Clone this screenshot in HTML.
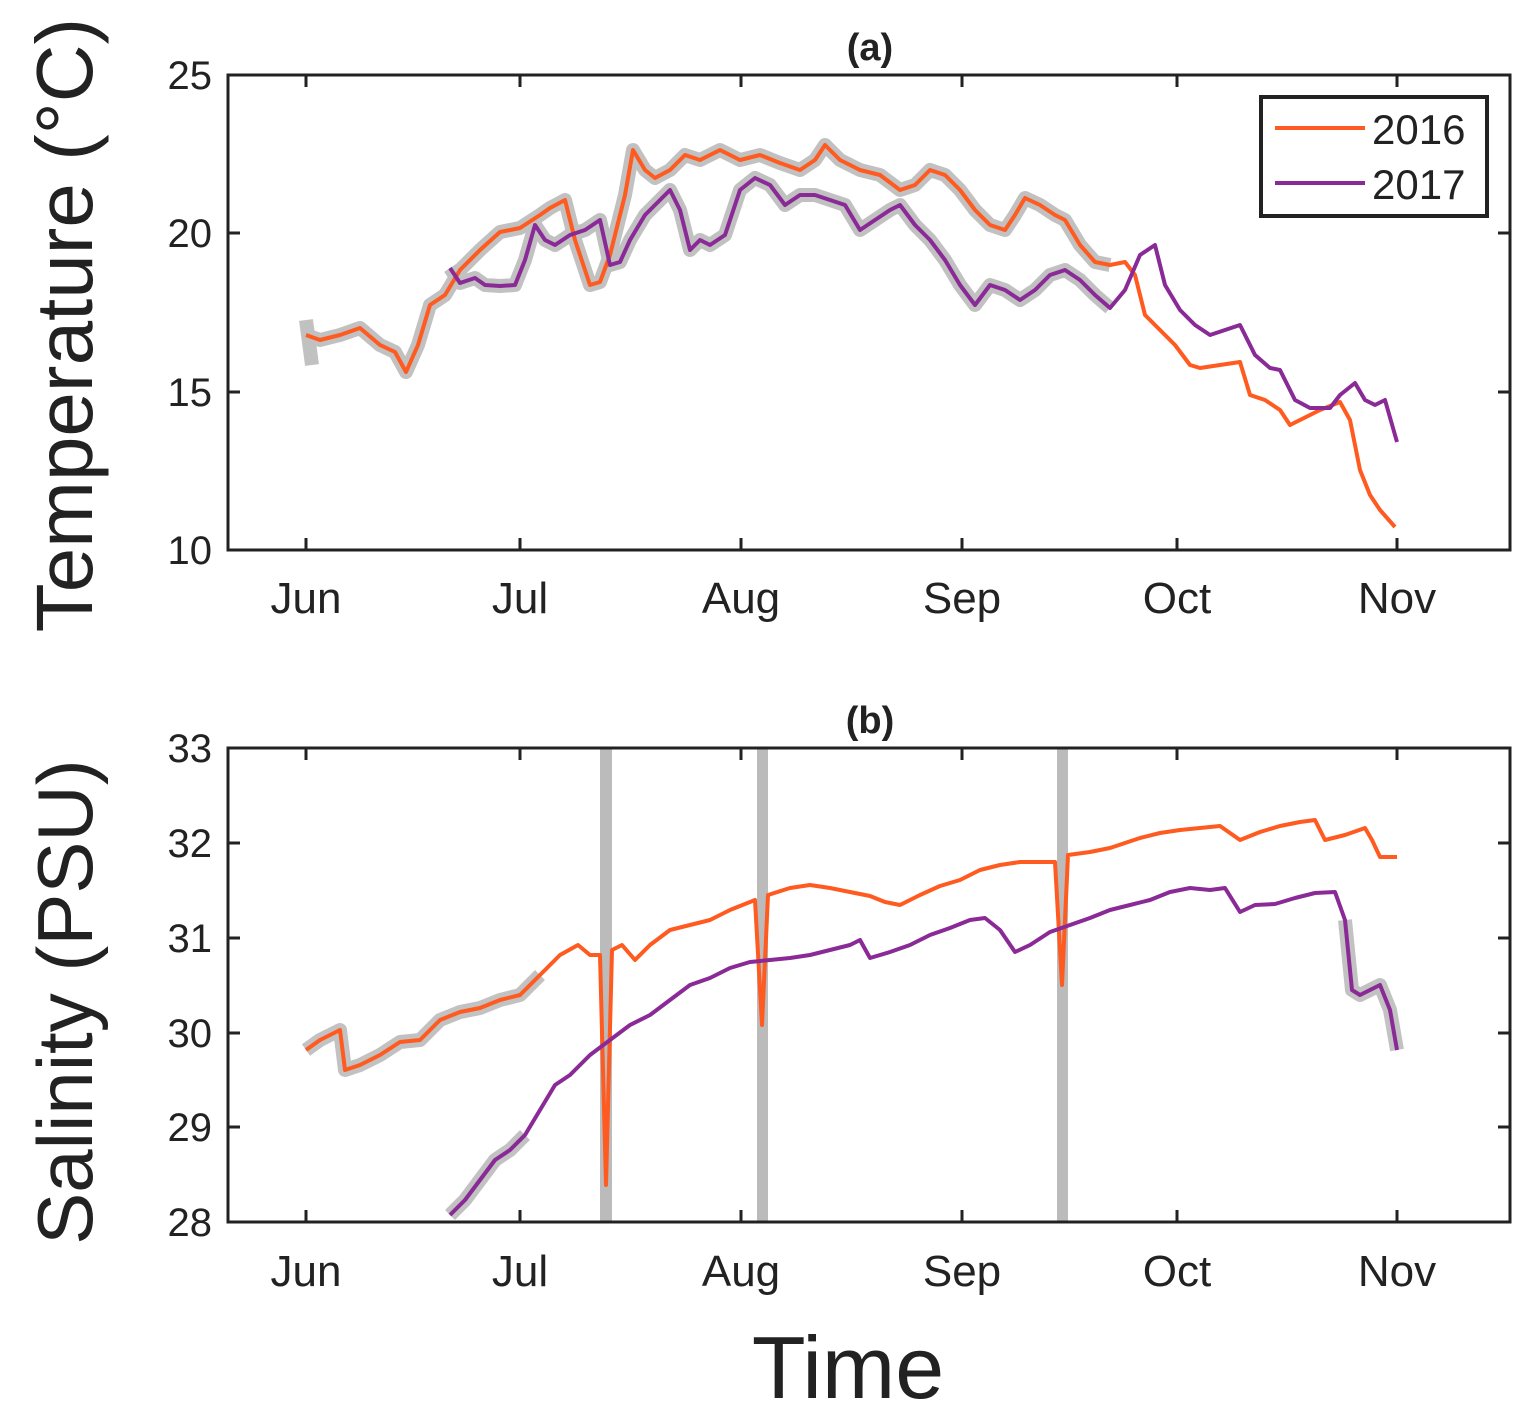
<!DOCTYPE html>
<html><head><style>body{margin:0;background:#fff}svg text{font-family:"Liberation Sans",sans-serif;fill:#222}</style></head>
<body>
<svg width="1539" height="1416" viewBox="0 0 1539 1416" xmlns="http://www.w3.org/2000/svg">
<!-- Panel a -->
<text x="870" y="60" font-size="38" font-weight="bold" text-anchor="middle">(a)</text>
<g stroke="#bbb" stroke-width="14" fill="none" stroke-linejoin="round" opacity="0.9">
<polyline points="306,335 320,340 340,335 360,328 380,345 395,352 406,372 418,345 430,305 445,295 460,270 480,250 500,232 520,228 540,215 550,208 565,200 575,240 590,285 600,282 610,255 625,195 633,150 645,170 655,178 670,170 685,155 700,160 720,150 740,160 760,155 780,163 800,170 815,160 825,145 840,160 860,170 880,175 900,190 915,185 930,170 945,175 960,190 975,210 990,225 1005,230 1015,215 1025,198 1040,205 1055,215 1065,220 1080,245 1095,262 1110,265"/>
<polyline points="450,268 460,283 475,278 485,285 500,286 515,285 525,260 535,225 545,240 555,245 570,235 585,230 600,220 610,265 620,262 630,240 645,215 660,200 670,190 680,210 690,250 700,240 710,245 725,235 740,190 755,178 770,185 785,205 800,195 815,195 830,200 845,205 860,230 875,220 890,210 900,205 915,225 930,240 945,260 960,285 975,305 990,285 1005,290 1020,300 1035,290 1050,275 1065,270 1080,280 1095,295 1110,308"/>
<polyline points="306,320 312,365"/>
</g>
<polyline fill="none" stroke="#ff5a1f" stroke-width="4" stroke-linejoin="round" points="306,335 320,340 340,335 360,328 380,345 395,352 406,372 418,345 430,305 445,295 460,270 480,250 500,232 520,228 540,215 550,208 565,200 575,240 590,285 600,282 610,255 625,195 633,150 645,170 655,178 670,170 685,155 700,160 720,150 740,160 760,155 780,163 800,170 815,160 825,145 840,160 860,170 880,175 900,190 915,185 930,170 945,175 960,190 975,210 990,225 1005,230 1015,215 1025,198 1040,205 1055,215 1065,220 1080,245 1095,262 1110,265 1125,262 1135,275 1145,315 1160,330 1175,345 1190,365 1200,368 1220,365 1240,362 1250,395 1265,400 1280,410 1290,425 1300,420 1320,410 1340,402 1350,420 1360,470 1370,495 1380,510 1395,527"/>
<polyline fill="none" stroke="#8a2a96" stroke-width="4" stroke-linejoin="round" points="450,268 460,283 475,278 485,285 500,286 515,285 525,260 535,225 545,240 555,245 570,235 585,230 600,220 610,265 620,262 630,240 645,215 660,200 670,190 680,210 690,250 700,240 710,245 725,235 740,190 755,178 770,185 785,205 800,195 815,195 830,200 845,205 860,230 875,220 890,210 900,205 915,225 930,240 945,260 960,285 975,305 990,285 1005,290 1020,300 1035,290 1050,275 1065,270 1080,280 1095,295 1110,308 1125,290 1140,255 1155,245 1165,285 1180,310 1195,325 1210,335 1225,330 1240,325 1255,355 1270,368 1280,370 1295,400 1310,408 1330,408 1340,395 1355,383 1365,400 1375,405 1385,400 1397,442"/>
<rect x="228" y="75" width="1282" height="475" fill="none" stroke="#222" stroke-width="3"/>
<g stroke="#222" stroke-width="3">
<path d="M306,75v12M520,75v12M741,75v12M962,75v12M1177,75v12M1397,75v12M306,550v-12M520,550v-12M741,550v-12M962,550v-12M1177,550v-12M1397,550v-12M228,233h12M228,392h12M1510,233h-12M1510,392h-12"/>
</g>
<g font-size="40" text-anchor="end"><text x="212" y="89">25</text><text x="212" y="247">20</text><text x="212" y="406">15</text><text x="212" y="564">10</text></g>
<g font-size="44" text-anchor="middle"><text x="306" y="613">Jun</text><text x="520" y="613">Jul</text><text x="741" y="613">Aug</text><text x="962" y="613">Sep</text><text x="1177" y="613">Oct</text><text x="1397" y="613">Nov</text></g>
<text transform="translate(92,325) rotate(-90)" font-size="80" text-anchor="middle">Temperature (°C)</text>
<rect x="1261" y="97" width="226" height="119" fill="#fff" stroke="#222" stroke-width="4"/>
<line x1="1275" y1="128" x2="1365" y2="128" stroke="#ff5a1f" stroke-width="4"/>
<line x1="1275" y1="183" x2="1365" y2="183" stroke="#8a2a96" stroke-width="4"/>
<text x="1372" y="144" font-size="42">2016</text><text x="1372" y="199" font-size="42">2017</text>
<!-- Panel b -->
<text x="870" y="733" font-size="38" font-weight="bold" text-anchor="middle">(b)</text>
<g fill="#bbb"><rect x="600" y="748" width="12" height="474"/><rect x="757" y="748" width="11" height="474"/><rect x="1057" y="748" width="11" height="474"/></g>
<g stroke="#bbb" stroke-width="14" fill="none" stroke-linejoin="round" opacity="0.9">
<polyline points="306,1050 320,1040 340,1030 345,1070 360,1065 380,1055 400,1042 420,1040 440,1020 460,1012 480,1008 500,1000 520,995 540,975"/>
<polyline points="450,1215 465,1200 480,1180 495,1160 510,1150 525,1135"/>
<polyline points="1345,920 1352,990 1360,995 1370,990 1380,985 1390,1010 1397,1050"/>
</g>
<polyline fill="none" stroke="#ff5a1f" stroke-width="4" stroke-linejoin="round" points="306,1050 320,1040 340,1030 345,1070 360,1065 380,1055 400,1042 420,1040 440,1020 460,1012 480,1008 500,1000 520,995 540,975 560,955 578,945 590,955 600,955 606,1185 612,950 622,945 635,960 650,945 670,930 690,925 710,920 730,910 755,900 762,1025 768,895 790,888 810,885 830,888 850,892 870,896 885,902 900,905 920,895 940,886 960,880 980,870 1000,865 1020,862 1040,862 1055,862 1062,985 1068,855 1090,852 1110,848 1140,838 1160,833 1180,830 1200,828 1220,826 1240,840 1260,832 1280,826 1300,822 1315,820 1325,840 1345,835 1365,828 1372,840 1380,857 1397,857"/>
<polyline fill="none" stroke="#8a2a96" stroke-width="4" stroke-linejoin="round" points="450,1215 465,1200 480,1180 495,1160 510,1150 525,1135 540,1110 555,1085 570,1075 590,1055 610,1040 630,1025 650,1015 670,1000 690,985 710,978 730,968 750,962 770,960 790,958 810,955 830,950 850,945 860,940 870,958 890,952 910,945 930,935 950,928 970,920 985,918 1000,930 1015,952 1030,945 1050,932 1070,925 1090,918 1110,910 1130,905 1150,900 1170,892 1190,888 1210,890 1225,888 1240,912 1255,905 1275,904 1295,898 1315,893 1335,892 1345,920 1352,990 1360,995 1370,990 1380,985 1390,1010 1397,1050"/>
<rect x="228" y="748" width="1282" height="474" fill="none" stroke="#222" stroke-width="3"/>
<g stroke="#222" stroke-width="3">
<path d="M306,748v12M520,748v12M741,748v12M962,748v12M1177,748v12M1397,748v12M306,1222v-12M520,1222v-12M741,1222v-12M962,1222v-12M1177,1222v-12M1397,1222v-12M228,843h12M228,938h12M228,1033h12M228,1127h12M1510,843h-12M1510,938h-12M1510,1033h-12M1510,1127h-12"/>
</g>
<g font-size="40" text-anchor="end"><text x="212" y="762">33</text><text x="212" y="857">32</text><text x="212" y="952">31</text><text x="212" y="1047">30</text><text x="212" y="1141">29</text><text x="212" y="1236">28</text></g>
<g font-size="44" text-anchor="middle"><text x="306" y="1286">Jun</text><text x="520" y="1286">Jul</text><text x="741" y="1286">Aug</text><text x="962" y="1286">Sep</text><text x="1177" y="1286">Oct</text><text x="1397" y="1286">Nov</text></g>
<text transform="translate(92,1002) rotate(-90)" font-size="78" text-anchor="middle">Salinity (PSU)</text>
<text x="848" y="1398" font-size="88" text-anchor="middle">Time</text>
</svg>
</body></html>
